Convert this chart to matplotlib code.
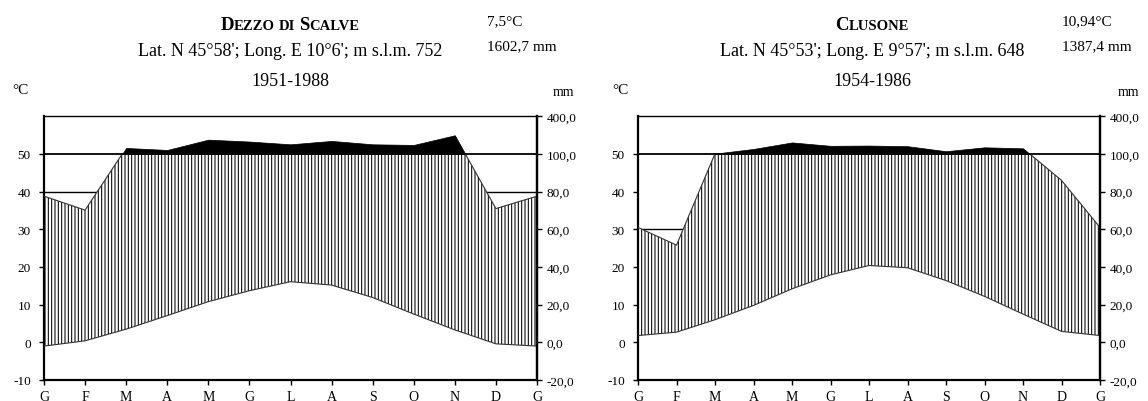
import numpy as np
import matplotlib
matplotlib.use('Agg')
import matplotlib.pyplot as plt

# ---------------- data ----------------
month_labels = ['G', 'F', 'M', 'A', 'M', 'G', 'L', 'A', 'S', 'O', 'N', 'D', 'G']

dezzo_temp = [-1.0, 0.4, 3.5, 7.1, 10.8, 13.7, 16.1, 15.2, 11.9, 7.5, 3.3, -0.4]
dezzo_prec = [77.6, 70.2, 148, 132, 214, 199, 177, 204, 177, 172, 249, 71]

clusone_temp = [1.8, 2.7, 6.0, 9.8, 14.2, 17.9, 20.4, 19.8, 16.4, 12.2, 7.5, 2.9]
clusone_prec = [61, 51.6, 103, 140, 192, 165, 167, 162, 122, 153, 145, 86]

temp_ticks = [-10, 0, 10, 20, 30, 40, 50]
prec_ticks = [-20, 0, 20, 40, 60, 80, 100, 400]

# ---------------- style ----------------
W, H = 1148, 402
plt.rcParams['font.family'] = ['Liberation Serif', 'DejaVu Serif']
plt.rcParams['hatch.linewidth'] = 0.75
plt.rcParams['hatch.color'] = 'black'

fig = plt.figure(figsize=(W / 100, H / 100), dpi=100)


def fx(x):
    return x / W


def fy(y):
    return 1 - y / H


def to_axis(p):
    p = np.asarray(p, float)
    return np.where(p <= 100, p / 2.0, 50 + (p - 100) / 30.0)


def with_crossings(x, y, level):
    xs, ys = [x[0]], [y[0]]
    for i in range(len(x) - 1):
        y0, y1 = y[i], y[i + 1]
        if (y0 - level) * (y1 - level) < 0:
            t = (level - y0) / (y1 - y0)
            xs.append(x[i] + t * (x[i + 1] - x[i]))
            ys.append(level)
        xs.append(x[i + 1])
        ys.append(y[i + 1])
    return np.array(xs), np.array(ys)


def smallcaps(xc, ybase, text, big, small):
    r = fig.canvas.get_renderer()
    words = text.split(' ')
    pieces = []  # (string, size, word_index)
    for wi, w in enumerate(words):
        cur, cursz = '', None
        for ch in w:
            sz = big if ch.isupper() else small
            if cursz is not None and sz != cursz:
                pieces.append((cur, cursz, wi))
                cur = ''
            cur += ch.upper()
            cursz = sz
        pieces.append((cur, cursz, wi))
    texts = []
    for s, sz, wi in pieces:
        t = fig.text(0, fy(ybase), s, fontsize=sz, fontweight='bold',
                     va='baseline', ha='left')
        texts.append((t, wi))
    gap = small * 100 / 72 * 0.28
    widths = [t.get_window_extent(renderer=r).width for t, _ in texts]
    total = sum(widths) + gap * (len(words) - 1)
    x = xc - total / 2
    prev_w = 0
    for (t, wi), wd in zip(texts, widths):
        if wi != prev_w:
            x += gap
            prev_w = wi
        t.set_x(fx(x))
        x += wd


def draw_station(rect, temp, prec, grid_levels, hdr):
    ax = fig.add_axes(rect)
    n = len(temp)
    x = np.arange(n + 1, dtype=float)
    t = np.array(list(temp) + [temp[0]], float)
    p = to_axis(list(prec) + [prec[0]])

    xs, ps = with_crossings(x, p, 50.0)
    ts = np.interp(xs, x, t)
    ptop = np.minimum(ps, 50.0)

    for lv in grid_levels:
        ax.axhline(lv, color='black', lw=1.0, zorder=1)

    ax.fill_between(xs, ts, ptop, facecolor='white', edgecolor='black',
                    hatch='|||||', linewidth=0, zorder=2)
    ax.fill_between(xs, 50.0, ps, where=ps >= 50.0, facecolor='black',
                    edgecolor='black', linewidth=0.5, zorder=3)
    ax.plot(x, t, color='#333333', lw=0.8, zorder=4)
    ax.plot(xs, ptop, color='#333333', lw=0.8, zorder=4)
    ax.axhline(50, color='black', lw=1.3, zorder=5)

    ax.set_xlim(0, n)
    ax.set_ylim(-10, 60)
    ax.set_xticks(x)
    ax.set_xticklabels(month_labels, fontsize=10)
    ax.set_yticks(temp_ticks)
    ax.set_yticklabels([str(v) for v in temp_ticks], fontsize=9.5)
    ax.tick_params(axis='x', direction='out', length=3.5, width=1, pad=3.5)
    ax.tick_params(axis='y', direction='out', length=3.5, width=1, pad=6)
    for s in ['left', 'bottom']:
        ax.spines[s].set_linewidth(1.6)
    ax.spines['top'].set_linewidth(1.0)
    ax.spines['right'].set_linewidth(1.6)

    ax2 = ax.twinx()
    ax2.set_ylim(-10, 60)
    ax2.set_yticks(to_axis(prec_ticks))
    ax2.set_yticklabels([f"{v:.1f}".replace('.', ',') for v in prec_ticks],
                        fontsize=9.5)
    ax2.tick_params(axis='y', direction='out', length=3.5, width=1, pad=3.5)
    ax2.spines['right'].set_linewidth(1.6)
    for s in ['left', 'top', 'bottom']:
        ax2.spines[s].set_visible(False)

    # header texts
    smallcaps(hdr['cx'], 30, hdr['name'], 13.5, 10.5)
    fig.text(fx(hdr['cx']), fy(52), hdr['coords'], fontsize=13,
             ha='center', va='center')
    fig.text(fx(hdr['cx']), fy(81), hdr['period'], fontsize=13,
             ha='center', va='center')
    fig.text(fx(hdr['sx']), fy(22), hdr['tmean'], fontsize=11,
             ha='left', va='center')
    fig.text(fx(hdr['sx']), fy(47), hdr['ptot'], fontsize=11,
             ha='left', va='center')
    fig.text(fx(hdr['cx_deg']), fy(90), '°C', fontsize=11,
             ha='left', va='center')
    fig.text(fx(hdr['mm_x']), fy(92), 'mm', fontsize=10,
             ha='left', va='center')
    return ax


top_px, bot_px = 117.3, 381.0
h = (bot_px - top_px) / H
b = 1 - bot_px / H

draw_station([fx(44), b, (537 - 44) / W, h], dezzo_temp, dezzo_prec, [40],
             dict(cx=290, name='Dezzo di Scalve',
                  coords="Lat. N 45°58'; Long. E 10°6'; m s.l.m. 752",
                  period='1951-1988', tmean='7,5°C', ptot='1602,7 mm',
                  sx=487, cx_deg=12, mm_x=553))

draw_station([fx(638), b, (1100 - 638) / W, h], clusone_temp, clusone_prec, [30],
             dict(cx=872, name='Clusone',
                  coords="Lat. N 45°53'; Long. E 9°57'; m s.l.m. 648",
                  period='1954-1986', tmean='10,94°C', ptot='1387,4 mm',
                  sx=1062, cx_deg=612, mm_x=1118))

fig.savefig('out.png', dpi=100)
